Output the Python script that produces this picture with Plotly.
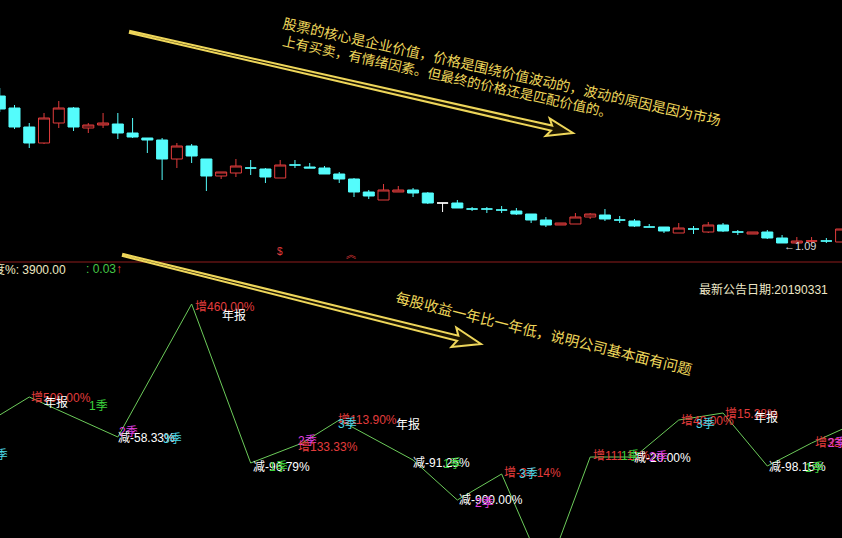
import math
import plotly.graph_objects as go

W, H = 842, 538

# ---------------- monthly candles (price) ----------------
kinds = ["D", "D", "D", "U", "U", "D", "U", "U", "D", "D",
         "D", "D", "U", "D", "D", "U", "U", "D", "D", "U",
         "D", "D", "D", "D", "D", "D", "U", "U", "D", "D",
         "W", "D", "D", "D", "D", "D", "D", "D", "U", "U",
         "U", "D", "D", "D", "D", "D", "U", "D", "U", "D",
         "D", "U", "D", "D", "U", "U", "D", "U"]
opens = [2.56, 2.44, 2.25, 2.09, 2.29, 2.44, 2.24, 2.27, 2.28, 2.19,
         2.14, 2.12, 1.93, 2.06, 1.93, 1.76, 1.79, 1.84, 1.83, 1.74,
         1.87, 1.85, 1.84, 1.78, 1.73, 1.60, 1.52, 1.60, 1.62, 1.59,
         1.49, 1.49, 1.43, 1.43, 1.42, 1.41, 1.38, 1.32, 1.27, 1.28,
         1.35, 1.37, 1.32, 1.31, 1.25, 1.25, 1.19, 1.23, 1.20, 1.27,
         1.20, 1.18, 1.20, 1.14, 1.09, 1.11, 1.11, 1.10]
closes = [2.43, 2.25, 2.09, 2.34, 2.44, 2.25, 2.27, 2.29, 2.19, 2.15,
          2.12, 1.93, 2.06, 1.96, 1.76, 1.80, 1.86, 1.84, 1.75, 1.87,
          1.87, 1.84, 1.78, 1.73, 1.60, 1.56, 1.62, 1.62, 1.59, 1.49,
          1.49, 1.44, 1.43, 1.43, 1.42, 1.38, 1.32, 1.27, 1.29, 1.35,
          1.38, 1.33, 1.32, 1.26, 1.25, 1.21, 1.24, 1.23, 1.27, 1.21,
          1.20, 1.20, 1.14, 1.09, 1.11, 1.11, 1.11, 1.23]
highs = [2.64, 2.47, 2.29, 2.39, 2.51, 2.45, 2.29, 2.39, 2.39, 2.34,
         2.14, 2.14, 2.09, 2.08, 1.93, 1.80, 1.93, 1.92, 1.84, 1.92,
         1.92, 1.89, 1.86, 1.80, 1.74, 1.62, 1.68, 1.66, 1.64, 1.60,
         1.49, 1.52, 1.45, 1.45, 1.46, 1.44, 1.38, 1.35, 1.29, 1.39,
         1.39, 1.43, 1.36, 1.33, 1.28, 1.25, 1.29, 1.26, 1.30, 1.29,
         1.22, 1.20, 1.22, 1.17, 1.15, 1.15, 1.14, 1.23]
lows = [2.40, 2.23, 2.04, 2.08, 2.24, 2.21, 2.19, 2.24, 2.13, 2.14,
        1.99, 1.72, 1.84, 1.89, 1.61, 1.73, 1.75, 1.77, 1.69, 1.74,
        1.84, 1.84, 1.78, 1.69, 1.55, 1.53, 1.52, 1.60, 1.55, 1.48,
        1.40, 1.44, 1.41, 1.39, 1.39, 1.37, 1.29, 1.25, 1.27, 1.28,
        1.33, 1.31, 1.29, 1.25, 1.25, 1.19, 1.19, 1.18, 1.19, 1.20,
        1.17, 1.18, 1.13, 1.09, 1.09, 1.09, 1.09, 1.10]
months = list(range(len(opens)))

# ---------------- EPS line (lower panel) ----------------
eps_x = [-2, 2, 8, 13, 17, 20.5, 23, 28, 31, 34, 37, 40, 43, 46, 49, 52, 55, 58]
eps_v = [0.087, 0.123, 0.083, 0.216, 0.057, 0.077, 0.100, 0.060, 0.020, 0.046,
         -0.056, 0.063, 0.063, 0.100, 0.107, 0.054, 0.077, 0.097]

label_vertex = [0, 1, 1, 1, 2, 2, 2, 3, 3, 4, 4, 5, 5, 6, 6, 6, 7, 7, 8, 8,
                9, 9, 11, 11, 12, 12, 13, 13, 14, 14, 15, 15, 16, 16]
label_text = ["3季", "增500.00%", "年报", "1季", "2季", "减-58.33%", "3季",
              "增460.00%", "年报", "减-96.79%", "1季", "2季", "增133.33%",
              "增113.90%", "3季", "年报", "减-91.25%", "1季", "减-900.00%", "2季",
              "增-37.14%", "3季", "增111.11%", "1季", "减-20.00%", "2季",
              "增40.00%", "3季", "增15.38%", "年报", "减-98.15%", "1季",
              "增33.33%", "2季"]
label_kind = ["q3", "up", "year", "q1", "q2", "down", "q3",
              "up", "year", "down", "q1", "q2", "up",
              "up", "q3", "year", "down", "q1", "down", "q2",
              "up", "q3", "up", "q1", "down", "q2",
              "up", "q3", "up", "year", "down", "q1",
              "up", "q2"]
# pixel offsets of each label's left edge / centre from its vertex
label_offset = [(17, 22), (0, 1), (13, 5), (58, 9), (-1, -5), (-2, 1), (43, 2),
                (1, 3), (28, 11), (0, 4), (16, 4), (-6, -2), (-6, 4),
                (-3, 0), (-3, 4), (55, 4), (-2, 3), (28, 4), (0, 0), (16, 3),
                (0, -1), (15, 0), (1, -1), (29, -1), (-2, 1), (13, 0),
                (0, 1), (15, 4), (0, 1), (29, 4), (0, 1), (36, 2),
                (1, 0), (14, 0)]

header_left = "幅度%: 3900.00"
header_val = ": 0.03"
notice = "最新公告日期:20190331"
note1 = "股票的核心是企业价值，价格是围绕价值波动的，波动的原因是因为市场"
note2 = "上有买卖，有情绪因素。但最终的价格还是匹配价值的。"
note3 = "每股收益一年比一年低，说明公司基本面有问题"

# ---------------- styling ----------------
RED = "#E23C3C"
CYAN = "#54FCFC"
COLORS = {"up": RED, "down": "#FFFFFF", "year": "#FFFFFF",
          "q1": "#3CD23C", "q2": "#E040E0", "q3": "#4CD8E6"}
YEL = "#EED65A"
FONT = "Liberation Sans, Noto Sans CJK SC"
CJK = "Noto Sans CJK SC"

SPLIT = 262  # px of separator
x_range = [0.0176, 57.06]
ppu = W / (x_range[1] - x_range[0])
y1_range = [0.90, 3.52]
y2_range = [-0.018, 0.258]
split_frac = 1 - SPLIT / H

fig = go.Figure()


def candle_trace(sel, line_color, fill):
    idx = [i for i, k in enumerate(kinds) if k == sel]
    return go.Candlestick(
        x=[months[i] for i in idx], open=[opens[i] for i in idx],
        high=[highs[i] for i in idx], low=[lows[i] for i in idx],
        close=[closes[i] for i in idx],
        increasing=dict(line=dict(color=line_color, width=1), fillcolor=fill),
        decreasing=dict(line=dict(color=line_color, width=1), fillcolor=fill),
        whiskerwidth=0, showlegend=False, hoverinfo="skip",
        xaxis="x", yaxis="y")


fig.add_trace(candle_trace("U", RED, "#000000"))
fig.add_trace(candle_trace("D", CYAN, CYAN))
fig.add_trace(candle_trace("W", "#FFFFFF", "#FFFFFF"))

fig.add_trace(go.Scatter(x=eps_x, y=eps_v, mode="lines",
                         line=dict(color="#6CCB5A", width=1),
                         showlegend=False, hoverinfo="skip",
                         xaxis="x", yaxis="y2"))

annotations = []
for k, t, kind, (dx, dy) in zip(label_vertex, label_text, label_kind, label_offset):
    ax = eps_x[k]
    shift = dx
    if ax < x_range[0]:
        anchor = x_range[0] + 0.05
        shift = dx + (ax - anchor) * ppu
        ax = anchor
    annotations.append(dict(x=ax, y=eps_v[k], xref="x", yref="y2", text=t,
                            showarrow=False, xanchor="left", yanchor="middle",
                            xshift=shift, yshift=-dy,
                            font=dict(family=FONT, size=12, color=COLORS[kind])))

# lowest price marker (first month reaching the minimum)
imin = lows.index(min(lows))
annotations.append(dict(x=months[imin], y=lows[imin], xref="x", yref="y",
                        text="←" + f"{lows[imin]:.2f}", showarrow=False,
                        xanchor="left", yanchor="middle", xshift=0, yshift=-3,
                        font=dict(family=FONT, size=11, color="#D8D8D8")))


def pp(x, y):
    return x / W, 1 - y / H


def txt(x, y, text, color, size, anchor="left", angle=0, family=FONT):
    px, py = pp(x, y)
    annotations.append(dict(x=px, y=py, xref="paper", yref="paper", text=text,
                            showarrow=False, xanchor=anchor, yanchor="middle",
                            textangle=angle,
                            font=dict(family=family, size=size, color=color)))


txt(68, 269, header_left, "#EEE8C0", 12, anchor="right")
txt(84, 269, header_val, "#46C846", 12)
txt(114, 269, "↑", RED, 12)
txt(697, 289, notice, "#EEE8C8", 12)
txt(280, 251, "$", RED, 10, anchor="center")
txt(351, 253, "︽", RED, 10, anchor="center", family=CJK)
txt(502, 71, note1, YEL, 14, anchor="center", angle=12.6, family=CJK)
txt(448, 76, note2, YEL, 13.5, anchor="center", angle=12.4, family=CJK)
txt(544, 332, note3, YEL, 14.5, anchor="center", angle=13.8, family=CJK)


def arrow_path(x0, y0, x1, y1, w0, w1, hw, hl):
    dx, dy = x1 - x0, y1 - y0
    L = math.hypot(dx, dy)
    ux, uy = dx / L, dy / L
    nx, ny = -uy, ux
    bx, by = x1 - ux * hl, y1 - uy * hl
    pts = [(x0 + nx * w0, y0 + ny * w0), (bx + nx * w1, by + ny * w1),
           (bx + nx * hw - ux * 4, by + ny * hw - uy * 4), (x1, y1),
           (bx - nx * hw - ux * 4, by - ny * hw - uy * 4), (bx - nx * w1, by - ny * w1),
           (x0 - nx * w0, y0 - ny * w0)]
    return "M " + " L ".join("%.5f,%.5f" % pp(a, b) for a, b in pts) + " Z"


shapes = [
    dict(type="line", xref="paper", yref="paper", x0=0, x1=1,
         y0=split_frac, y1=split_frac, line=dict(color="#8E1C1C", width=1)),
    dict(type="path", xref="paper", yref="paper",
         path=arrow_path(130, 32, 573, 133, 1.0, 2.6, 9, 22),
         line=dict(color=YEL, width=2), fillcolor="#1A1400"),
    dict(type="path", xref="paper", yref="paper",
         path=arrow_path(123, 255, 481, 344, 1.0, 2.6, 10, 24),
         line=dict(color=YEL, width=2), fillcolor="#1A1400"),
]

axis_off = dict(showgrid=False, zeroline=False, showticklabels=False,
                showline=False, ticks="", fixedrange=True)
fig.update_layout(
    width=W, height=H, margin=dict(l=0, r=0, t=0, b=0, pad=0),
    paper_bgcolor="#000000", plot_bgcolor="#000000",
    boxgap=0.1, boxgroupgap=0.17,
    xaxis=dict(range=x_range, rangeslider=dict(visible=False), anchor="y2", **axis_off),
    yaxis=dict(range=y1_range, domain=[split_frac, 1], anchor="x", **axis_off),
    yaxis2=dict(range=y2_range, domain=[0, split_frac], anchor="x", **axis_off),
    annotations=annotations, shapes=shapes, showlegend=False,
)

fig.write_html("out.html", config={"displayModeBar": False},
               post_script="document.body.style.margin='0';document.body.style.overflow='hidden';")
